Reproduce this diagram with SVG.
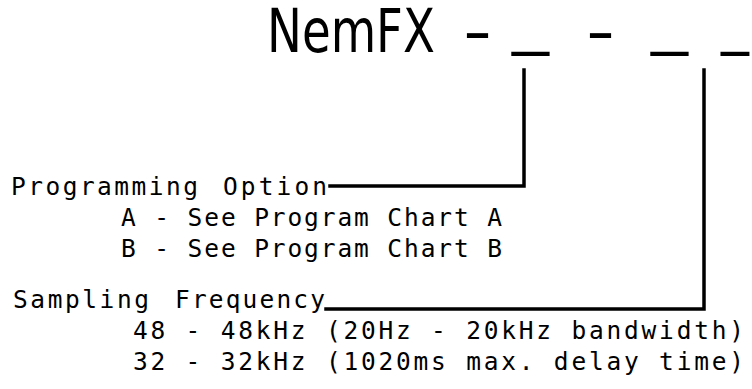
<svg xmlns="http://www.w3.org/2000/svg" width="752" height="389" viewBox="0 0 752 389">
<style>
.t{font-family:"DejaVu Sans Mono","Liberation Mono",monospace;font-size:24.5px;fill:#000}
.h{font-family:"DejaVu Sans","Liberation Sans",sans-serif;font-size:60px;fill:#000}
.c{fill:none;stroke:#000;stroke-width:3.5;stroke-linejoin:miter;stroke-linecap:square}
</style>
<rect width="752" height="389" fill="#fff"/>
<g id="title">
<text class="h" transform="translate(267,52) scale(0.778,1)">NemFX</text>
<text class="h" transform="translate(463,52) scale(1.34,1)">-</text>
<text class="h" transform="translate(512,42) scale(1.23,1)">_</text>
<text class="h" transform="translate(586,52) scale(1.34,1)">-</text>
<text class="h" transform="translate(651,42) scale(1.23,1)">_</text>
<text class="h" transform="translate(721,42) scale(0.93,1)">_</text>
</g>
<g id="programming-option">
<text class="t" x="11" y="195" textLength="187" lengthAdjust="spacing">Programming</text>
<text class="t" x="223" y="195" textLength="104" lengthAdjust="spacing">Option</text>
<text class="t" x="121" y="226" textLength="381" lengthAdjust="spacing">A - See Program Chart A</text>
<text class="t" x="121" y="257" textLength="381" lengthAdjust="spacing">B - See Program Chart B</text>
</g>
<g id="sampling-frequency">
<text class="t" x="13" y="308" textLength="136" lengthAdjust="spacing">Sampling</text>
<text class="t" x="175" y="308" textLength="150" lengthAdjust="spacing">Frequency</text>
<text class="t" x="133" y="339" textLength="611" lengthAdjust="spacing">48 - 48kHz (20Hz - 20kHz bandwidth)</text>
<text class="t" x="133" y="370" textLength="611" lengthAdjust="spacing">32 - 32kHz (1020ms max. delay time)</text>
</g>
<g id="connectors">
<polyline class="c" points="330,186 524,186 524,70"/>
<polyline class="c" points="326,309 704,309 704,70"/>
</g>
</svg>
